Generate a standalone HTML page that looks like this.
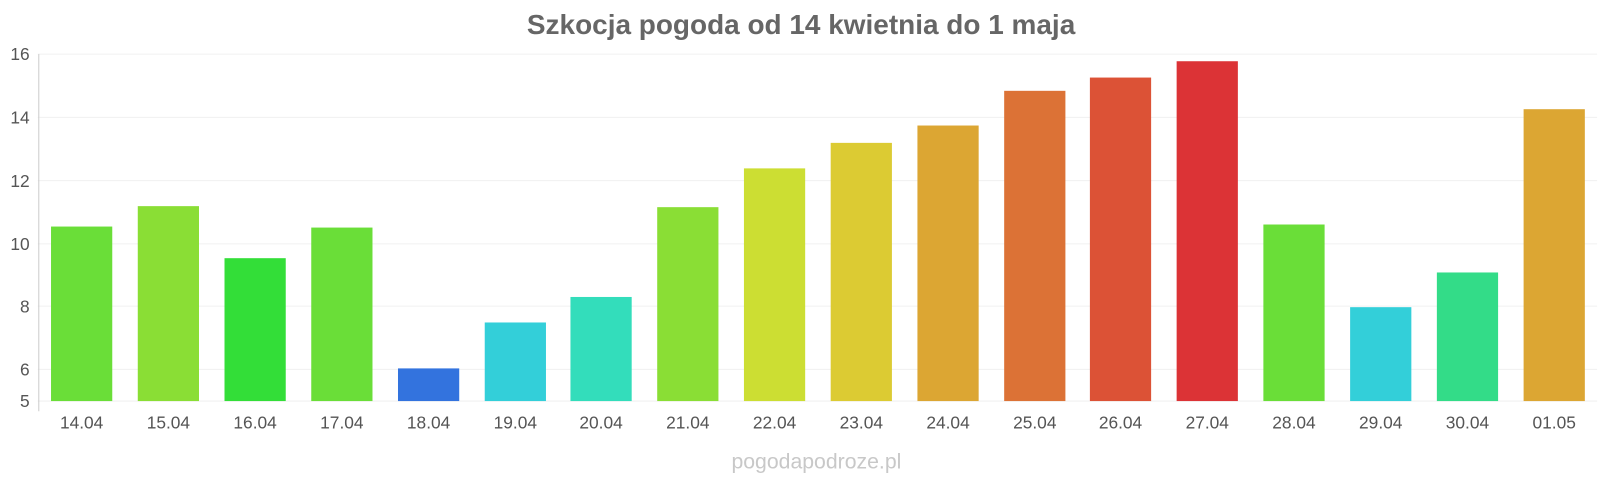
<!DOCTYPE html>
<html><head><meta charset="utf-8"><style>
body{margin:0;background:#fff;}
svg text{font-family:"Liberation Sans",sans-serif;}
</style></head><body>
<svg width="1600" height="480" xmlns="http://www.w3.org/2000/svg">
<rect width="1600" height="480" fill="#fff"/>
<g transform="scale(1.0205)">
<text x="785" y="33.5" text-anchor="middle" font-size="27.4" font-weight="bold" fill="#666">Szkocja pogoda od 14 kwietnia do 1 maja</text>
<g stroke="#f0f0f0" stroke-width="1">
<line x1="37" x2="1565" y1="53" y2="53"/>
<line x1="37" x2="1565" y1="115" y2="115"/>
<line x1="37" x2="1565" y1="177" y2="177"/>
<line x1="37" x2="1565" y1="239" y2="239"/>
<line x1="37" x2="1565" y1="300" y2="300"/>
<line x1="37" x2="1565" y1="362" y2="362"/>
<line x1="37" x2="1565" y1="393" y2="393"/>
</g>
<line x1="38" x2="38" y1="53" y2="403" stroke="#ccc"/>
<g font-size="17" fill="#555" text-anchor="end">
<text x="29" y="59">16</text><text x="29" y="121">14</text><text x="29" y="183">12</text>
<text x="29" y="245">10</text><text x="29" y="306">8</text><text x="29" y="368">6</text><text x="29" y="399">5</text>
</g>
<g>
<rect x="50" y="222" width="60" height="171" fill="#6ade38"/>
<rect x="135" y="202" width="60" height="191" fill="#8ade35"/>
<rect x="220" y="253" width="60" height="140" fill="#33de38"/>
<rect x="305" y="223" width="60" height="170" fill="#6ade38"/>
<rect x="390" y="361" width="60" height="32" fill="#3373de"/>
<rect x="475" y="316" width="60" height="77" fill="#33cfd9"/>
<rect x="559" y="291" width="60" height="102" fill="#33ddbb"/>
<rect x="644" y="203" width="60" height="190" fill="#8ade35"/>
<rect x="729" y="165" width="60" height="228" fill="#ccde33"/>
<rect x="814" y="140" width="60" height="253" fill="#dccb33"/>
<rect x="899" y="123" width="60" height="270" fill="#dca633"/>
<rect x="984" y="89" width="60" height="304" fill="#dc7236"/>
<rect x="1068" y="76" width="60" height="317" fill="#dc5236"/>
<rect x="1153" y="60" width="60" height="333" fill="#dc3336"/>
<rect x="1238" y="220" width="60" height="173" fill="#6ade38"/>
<rect x="1323" y="301" width="60" height="92" fill="#33cfd9"/>
<rect x="1408" y="267" width="60" height="126" fill="#33dc88"/>
<rect x="1493" y="107" width="60" height="286" fill="#dca633"/>
</g>
<g font-size="17" fill="#555" text-anchor="middle">
<text x="80" y="420">14.04</text><text x="165" y="420">15.04</text><text x="250" y="420">16.04</text>
<text x="335" y="420">17.04</text><text x="420" y="420">18.04</text><text x="505" y="420">19.04</text>
<text x="589" y="420">20.04</text><text x="674" y="420">21.04</text><text x="759" y="420">22.04</text>
<text x="844" y="420">23.04</text><text x="929" y="420">24.04</text><text x="1014" y="420">25.04</text>
<text x="1098" y="420">26.04</text><text x="1183" y="420">27.04</text><text x="1268" y="420">28.04</text>
<text x="1353" y="420">29.04</text><text x="1438" y="420">30.04</text><text x="1523" y="420">01.05</text>
</g>
<text x="800" y="459" text-anchor="middle" font-size="20.8" fill="#c8c8c8">pogodapodroze.pl</text>
</g>
</svg>
</body></html>
